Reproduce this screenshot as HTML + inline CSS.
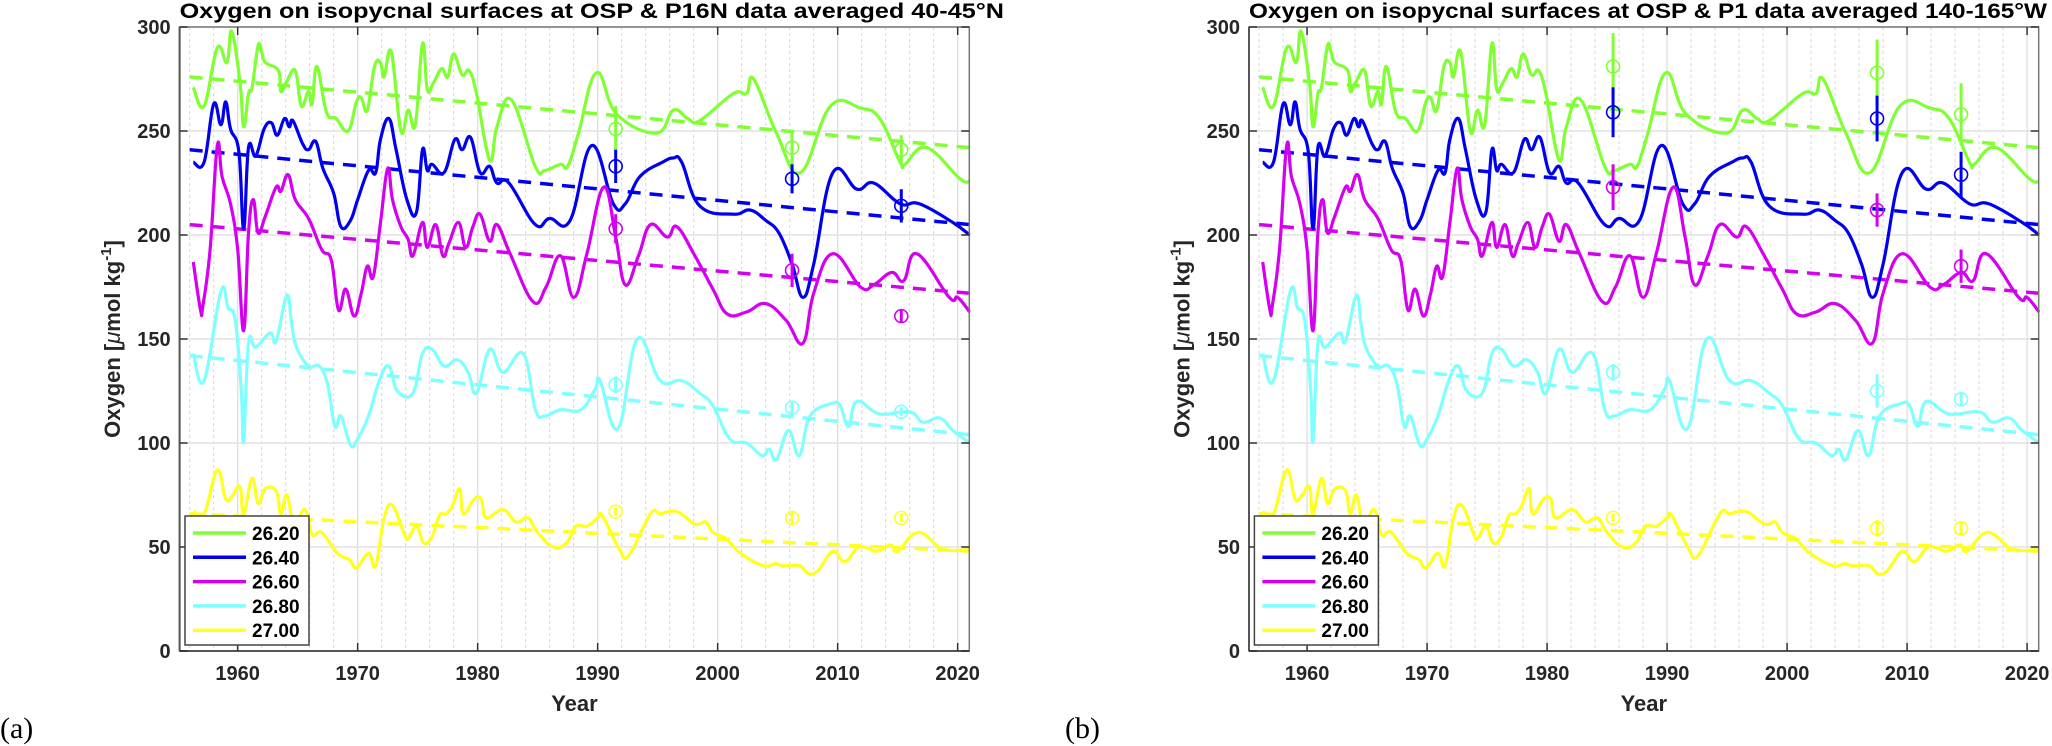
<!DOCTYPE html>
<html><head><meta charset="utf-8">
<style>
html,body{margin:0;padding:0;background:#fff;}
svg{display:block;font-family:"Liberation Sans",Arial,sans-serif;}
</style></head>
<body>
<svg id="fig" width="2052" height="746" viewBox="0 0 2052 746" xmlns="http://www.w3.org/2000/svg"></svg>
<script>
// ---- data ----
const seriesNames = ["26.20","26.40","26.60","26.80","27.00"];
const seriesColors = ["#80ff33","#0000ee","#d400f0","#80ffff","#ffff22"];

const greenYears = [1956.3,1957.2,1958.3,1959.1,1959.5,1960.2,1960.5,1960.9,1961.2,1961.7,1962.0,1962.3,1963.4,1963.6,1964.1,1964.8,1965.3,1965.9,1966.2,1966.6,1967.4,1968.2,1969.2,1969.9,1970.3,1970.8,1971.4,1971.9,1972.2,1972.8,1973.6,1974.2,1974.8,1975.4,1975.8,1976.3,1977.0,1977.5,1978.0,1978.7,1979.3,1979.9,1981.0,1981.6,1982.8,1984.8,1985.6,1986.9,1987.5,1988.4,1989.9,1991.6,1994.9,1996.3,1997.5,1998.5,2001.3,2002.4,2003.0,2004.9,2006.9,2009.4,2011.9,2013.5,2015.2,2015.6,2017.4,2020.2,2021.0];
const greenVals  = [271,262,290,283,298,273,252,268,271,291,288,283,279,269,274,279,262,269,263,281,259,256,250,264,266,260,281,283,276,288,250,260,253,292,270,273,280,276,287,277,279,268,236,252,265,233,231,234,233,249,278,258,249,260,256,255,268,268,275,249,230,262,261,256,235,234,242,227,226];

const blueYears = [1956.3,1957.2,1958.0,1958.6,1959.0,1959.4,1960.1,1960.5,1960.9,1961.5,1962.2,1962.8,1963.3,1963.9,1964.3,1964.6,1965.4,1965.9,1966.5,1967.1,1968.0,1968.6,1969.4,1970.0,1970.9,1971.5,1971.9,1972.6,1973.2,1974.1,1974.9,1975.4,1975.8,1976.2,1977.2,1978.1,1978.7,1979.4,1980.2,1981.0,1981.6,1982.6,1984.8,1986.0,1987.7,1989.5,1991.3,1992.3,1993.5,1995.4,1996.3,1997.0,1998.5,2001.3,2002.7,2004.0,2005.1,2006.2,2007.1,2008.0,2009.6,2011.6,2013.0,2015.2,2016.8,2019.6,2021.0];
const blueVals  = [235,235,263,253,264,251,240,203,242,238,251,254,248,256,252,255,244,241,245,232,220,204,207,217,231,230,246,256,241,217,211,241,231,234,230,246,241,247,230,233,225,225,205,208,207,243,215,215,228,235,237,235,214,210,212,207,201,186,170,186,230,222,225,215,215,206,200];

const magYears = [1956.3,1956.9,1957.1,1957.7,1958.3,1958.7,1959.4,1960.0,1960.5,1960.9,1961.3,1961.7,1962.3,1963.2,1963.6,1964.2,1964.8,1965.9,1967.0,1967.8,1968.4,1969.0,1969.7,1970.3,1970.8,1971.3,1971.9,1972.5,1972.9,1973.6,1974.2,1974.6,1975.4,1975.8,1976.5,1977.1,1977.6,1978.4,1979.0,1979.6,1980.2,1981.0,1981.6,1982.7,1984.6,1985.7,1986.9,1988.0,1989.1,1990.5,1991.5,1992.3,1993.4,1994.4,1995.8,1996.6,1998.1,1999.6,2000.8,2002.4,2004.0,2005.7,2007.1,2008.0,2009.6,2011.9,2013.0,2014.5,2015.5,2016.6,2019.3,2020.0,2021.0];
const magVals  = [187,164,166,193,243,228,215,193,154,201,217,201,209,223,221,229,217,208,193,188,164,174,161,172,185,180,206,232,217,204,198,190,206,194,205,190,196,206,194,204,210,197,205,191,168,175,190,170,191,223,199,176,190,205,199,204,190,174,162,163,167,159,148,172,191,175,176,182,178,191,170,170,163];

const cyanYears = [1956.3,1957.2,1958.6,1959.2,1959.8,1960.3,1960.5,1960.9,1961.5,1962.7,1963.2,1964.1,1964.5,1964.9,1965.9,1966.8,1967.5,1968.1,1968.6,1969.4,1970.0,1970.9,1971.8,1972.6,1973.3,1974.6,1975.4,1976.2,1977.2,1978.3,1979.2,1979.9,1981.0,1982.1,1983.8,1984.8,1985.6,1986.9,1988.6,1989.8,1990.2,1991.7,1993.3,1995.2,1997.0,1998.5,1999.6,2001.0,2002.4,2003.7,2004.3,2004.9,2005.9,2006.8,2007.7,2009.5,2010.2,2010.9,2011.6,2013.5,2016.0,2017.1,2018.5,2019.6,2021.0];
const cyanVals  = [143,130,173,165,159,125,101,148,146,153,149,171,157,146,137,137,128,108,113,99,102,113,130,137,125,124,143,145,137,140,134,124,145,134,143,116,113,116,116,126,130,107,150,130,130,124,118,102,100,94,97,92,106,94,113,119,118,108,120,114,115,110,112,106,100];

const yelYears = [1956.3,1957.2,1958.3,1959.0,1959.6,1960.2,1960.5,1961.2,1961.7,1962.3,1963.2,1963.6,1964.1,1964.7,1965.6,1966.2,1967.0,1968.3,1969.3,1969.9,1970.9,1971.5,1972.2,1972.9,1973.9,1974.2,1974.9,1975.5,1976.2,1976.8,1977.4,1977.9,1978.5,1978.8,1979.7,1980.3,1980.7,1982.1,1983.2,1984.2,1985.0,1986.3,1987.4,1988.2,1989.1,1990.0,1990.4,1991.8,1992.6,1994.4,1995.2,1996.6,1998.1,1999.0,1999.6,2000.7,2001.9,2003.8,2004.8,2005.4,2006.8,2007.6,2008.4,2009.6,2010.6,2011.8,2013.3,2014.4,2015.0,2016.7,2018.8,2021.0];
const yelVals  = [67,66,87,73,75,79,66,83,71,78,77,66,75,61,68,56,57,47,44,40,47,41,64,70,56,54,60,52,55,65,66,70,78,66,73,73,64,68,62,64,57,50,52,60,60,64,65,49,46,66,66,67,61,62,57,54,47,41,42,41,41,37,39,48,43,50,48,51,48,57,49,49];

const trendStart = [276,241,205,142,66];
const trendEnd   = [242,205,172,104,48];

const aYears = [1991.5, 2006.2, 2015.3];
const aVals = [[251,242,241],[233,227,214],[203,183,161],[128,117,115],[67,64,64]];
const aErr  = [[11,8,7],[8,7,8],[7,8,3],[4,3,2],[2,3,2]];
const bYears = [1985.5, 2007.5, 2014.5];
const bVals = [[281,278,258],[259,256,229],[223,212,185],[134,125,121],[64,59,59]];
const bErr  = [[16,16,15],[12,11,11],[11,8,8],[4,8,3],[2,4,3]];

const xTicks = [1960,1970,1980,1990,2000,2010,2020];
const yTicks = [0,50,100,150,200,250,300];

const allYears = [greenYears,blueYears,magYears,cyanYears,yelYears];
const allVals = [greenVals,blueVals,magVals,cyanVals,yelVals];

const NS = "http://www.w3.org/2000/svg";
const svg = document.getElementById("fig");
function mk(tag, attrs, parent){
  const e = document.createElementNS(NS, tag);
  for (const k in attrs) e.setAttribute(k, attrs[k]);
  (parent||svg).appendChild(e);
  return e;
}
function smoothPath(p){
  let d = "M" + p[0][0].toFixed(1) + "," + p[0][1].toFixed(1);
  for (let i = 0; i < p.length - 1; i++) {
    const p0 = p[Math.max(0,i-1)], p1 = p[i], p2 = p[i+1], p3 = p[Math.min(p.length-1,i+2)];
    const t = 0.2;
    const c1x = p1[0] + (p2[0]-p0[0])*t, c1y = p1[1] + (p2[1]-p0[1])*t;
    const c2x = p2[0] - (p3[0]-p1[0])*t, c2y = p2[1] - (p3[1]-p1[1])*t;
    d += " C" + c1x.toFixed(1) + "," + c1y.toFixed(1) + " " + c2x.toFixed(1) + "," + c2y.toFixed(1) + " " + p2[0].toFixed(1) + "," + p2[1].toFixed(1);
  }
  return d;
}
const X0 = 1955.16, XPX = 12, YTOP = 27, YBOT = 651, YMAX = 300;
function panel(off, titleText, titleEnd, label, pYears, pVals, pErr, pname){
  const g = mk("g", {});
  
  
  const left = 179.6 + off, right = 969.3 + off;
  const sx = yr => left + (yr - X0) * XPX;
  const sy = v => YBOT - v * (YBOT - YTOP) / YMAX;
  for (let yr = 1956; yr <= 2020; yr += 2) {
    if (yr % 10 === 0) continue;
    const l = mk("line", {x1:sx(yr),x2:sx(yr),y1:YTOP,y2:YBOT,stroke:"#d8d8d8","stroke-width":1,"stroke-dasharray":"3,3"}, g);
    
    
  }
  for (const t of xTicks) {
    const l = mk("line", {x1:sx(t),x2:sx(t),y1:YTOP,y2:YBOT,stroke:"#e2e2e2","stroke-width":1.5}, g);
    
    
  }
  for (const t of yTicks) {
    const l = mk("line", {x1:left,x2:right,y1:sy(t),y2:sy(t),stroke:"#e2e2e2","stroke-width":1.5}, g);
    
    
  }
  for (let i = 0; i < 5; i++) {
    const l = mk("line", {x1:sx(1956),x2:sx(2021),y1:sy(trendStart[i]),y2:sy(trendEnd[i]),stroke:seriesColors[i],"stroke-width":3.5,"stroke-dasharray":"13,9"}, g);
    
    
  }
  for (let i = 0; i < 5; i++) {
    const pts = allYears[i].map((y, j) => [sx(y), sy(allVals[i][j])]);
    const pl = mk("path", {d:smoothPath(pts),fill:"none",stroke:seriesColors[i],"stroke-width":3.2,"stroke-linejoin":"round"}, g);
    
    
  }
  for (let i = 0; i < 5; i++) {
    for (let j = 0; j < pYears.length; j++) {
      const x = sx(pYears[j]), v = pVals[i][j], e = pErr[i][j];
      const eb = mk("line", {x1:x,x2:x,y1:sy(v+e),y2:sy(v-e),stroke:seriesColors[i],"stroke-width":3}, g);
      
      
      const c = mk("circle", {cx:x,cy:sy(v),r:6.5,fill:"none",stroke:seriesColors[i],"stroke-width":1.6}, g);
      
      
    }
  }
  const box = mk("rect", {x:left,y:YTOP,width:right-left,height:YBOT-YTOP,fill:"none",stroke:"#777","stroke-width":1.5}, g);
  
  
  mk("line", {x1:left,x2:right,y1:YBOT,y2:YBOT,stroke:"#555","stroke-width":2}, g);
  mk("line", {x1:left,x2:left,y1:YTOP,y2:YBOT,stroke:"#555","stroke-width":2}, g);
  for (const t of xTicks) {
    mk("line", {x1:sx(t),x2:sx(t),y1:YBOT,y2:YBOT-8,stroke:"#333","stroke-width":1.5}, g);
    mk("line", {x1:sx(t),x2:sx(t),y1:YTOP,y2:YTOP+8,stroke:"#333","stroke-width":1.5}, g);
    const tx = mk("text", {x:sx(t),y:680,"text-anchor":"middle","font-size":20,"font-weight":"bold",fill:"#262626"}, g);
    tx.textContent = t;
    
    
  }
  for (const t of yTicks) {
    mk("line", {x1:left,x2:left+8,y1:sy(t),y2:sy(t),stroke:"#333","stroke-width":1.5}, g);
    mk("line", {x1:right,x2:right-8,y1:sy(t),y2:sy(t),stroke:"#333","stroke-width":1.5}, g);
    const tx = mk("text", {x:left-9,y:sy(t)+7,"text-anchor":"end","font-size":20,"font-weight":"bold",fill:"#262626"}, g);
    tx.textContent = t;
    
    
  }
  const ti = mk("text", {x:left,y:18,"font-size":21,"font-weight":"bold",fill:"#000",textLength:titleEnd-left,lengthAdjust:"spacingAndGlyphs"}, g);
  ti.textContent = titleText;
  
  
  const xl = mk("text", {x:(left+right)/2,y:711,"text-anchor":"middle","font-size":22,"font-weight":"bold",fill:"#262626"}, g);
  xl.textContent = "Year";
  
  
  const yl = mk("text", {x:0,y:0,"text-anchor":"middle","font-size":22,"font-weight":"bold",fill:"#262626",transform:"translate(" + (off+120) + ",339) rotate(-90)"}, g);
  yl.innerHTML = 'Oxygen [<tspan font-style="italic" font-weight="normal">μ</tspan>mol kg<tspan dy="-9" font-size="15">-1</tspan><tspan dy="9">]</tspan>';
  
  
  const lg = mk("g", {}, g);
  
  
  mk("rect", {x:off+185,y:516,width:124,height:129,fill:"#fff",stroke:"#444","stroke-width":1.5}, lg);
  for (let i = 0; i < 5; i++) {
    const y = 533 + i * 24.3;
    const ent = mk("g", {}, lg);
    
    
    mk("line", {x1:off+193,x2:off+246,y1:y,y2:y,stroke:seriesColors[i],"stroke-width":3.5}, ent);
    const t = mk("text", {x:off+252,y:y+7,"font-size":19,"font-weight":"bold",fill:"#000"}, ent);
    t.textContent = seriesNames[i];
  }
  const pl = mk("text", {x:label.x,y:738,"font-size":30,fill:"#000","font-family":"Liberation Serif, serif"}, g);
  pl.textContent = label.t;
  
  
}
panel(0, "Oxygen on isopycnal surfaces at OSP & P16N data averaged 40-45°N", 1004, {x:0,t:"(a)"}, aYears, aVals, aErr, "panel-a");
panel(1069.4, "Oxygen on isopycnal surfaces at OSP & P1 data averaged 140-165°W", 2047, {x:1065,t:"(b)"}, bYears, bVals, bErr, "panel-b");
</script>
</body></html>
